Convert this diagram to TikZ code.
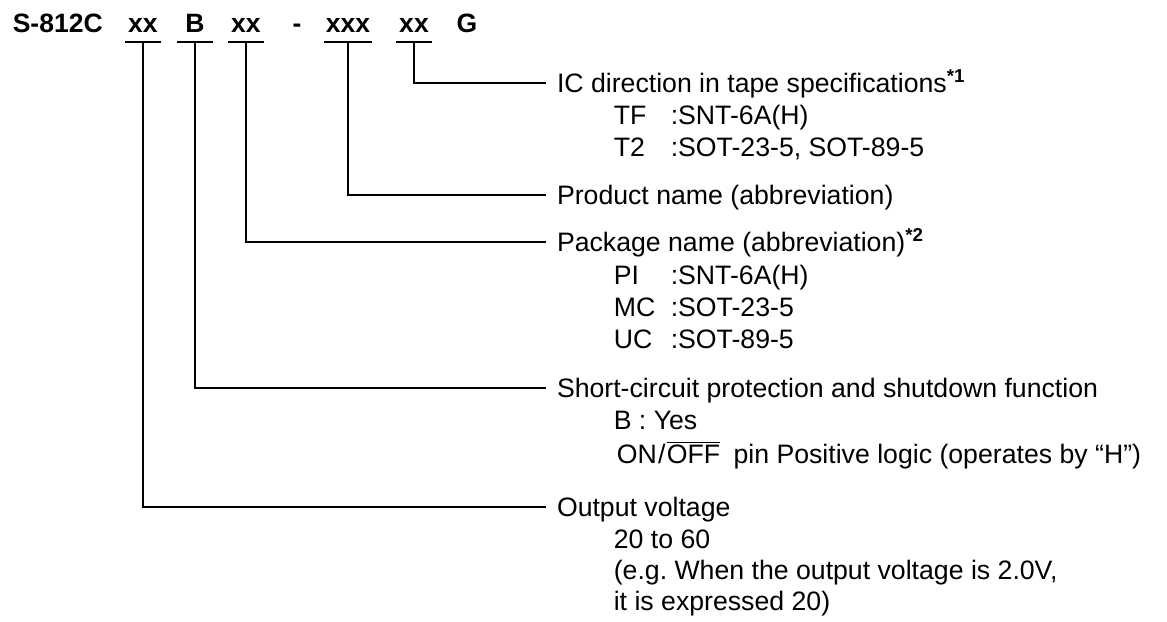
\documentclass[tikz,border=0pt]{standalone}
\usepackage{fontspec}
\setmainfont{Liberation Sans}

\tikzset{every picture/.style={line width=1.2pt}}
\tikzset{
  partcode/.style={anchor=base, font=\fontsize{19.9}{23.8}\selectfont\bfseries, inner xsep=1.1pt, inner ysep=6.75pt, minimum width=25.5pt, text height=14.25pt, text depth=0pt},
  desctitle/.style={anchor=west, font=\fontsize{20}{23.8}\selectfont, inner sep=0pt, outer xsep=8.25pt, outer ysep=0pt, text height=14.25pt, text depth=0pt},
  descline/.style={anchor=base west, font=\fontsize{20}{23.8}\selectfont, inner sep=0pt}
}
\newcommand{\keycol}[1]{\makebox[42.75pt][l]{#1}}

\begin{document}
\begin{tikzpicture}[x=0.75pt,y=0.75pt,yscale=-1,xscale=1]
	\useasboundingbox (0,0) rectangle (1167,621);

	% Text Node: part number
	\draw (10.5,32) node [partcode, anchor=base west] (pfx) {S-812C};
	\draw (143,32) node [partcode] (volt) {xx};
	\draw (195,32) node [partcode] (func) {B};
	\draw (246,32) node [partcode] (pkg) {xx};
	\draw (297,32) node [partcode] (hyph) {-};
	\draw (348,32) node [partcode] (prod) {xxx};
	\draw (414,32) node [partcode] (dir) {xx};
	\draw (467,32) node [partcode] (grn) {G};

	%Straight Lines: underlines
	\foreach \n in {volt,func,pkg,prod,dir}
		\draw (\n.south west) -- (\n.south east);

	% Text Node: IC direction
	\draw (546,83) node [desctitle] (dirt) {IC direction in tape specifications\textsuperscript{\bfseries *1}};
	\draw (613,124) node [descline] (dira) {\keycol{TF}:SNT-6A(H)};
	\draw (613,156) node [descline] (dirb) {\keycol{T2}:SOT-23-5, SOT-89-5};
	% Text Node: product name
	\draw (546,195) node [desctitle] (prodt) {Product name (abbreviation)};
	% Text Node: package name
	\draw (546,242) node [desctitle] (pkgt) {Package name (abbreviation)\textsuperscript{\bfseries *2}};
	\draw (613,284) node [descline] (pkga) {\keycol{PI}:SNT-6A(H)};
	\draw (613,316) node [descline] (pkgb) {\keycol{MC}:SOT-23-5};
	\draw (613,348) node [descline] (pkgc) {\keycol{UC}:SOT-89-5};
	% Text Node: short-circuit protection
	\draw (546,388) node [desctitle] (funct) {Short-circuit protection and shutdown function};
	\draw (613,429) node [descline] (funca) {B : Yes};
	\draw (616,463) node [descline] (funcb) {ON\kern1pt/\kern1pt$\overline{\mbox{OFF}}$\hspace{10pt}pin Positive logic (operates by “H”)};
	% Text Node: output voltage
	\draw (546,507) node [desctitle] (voltt) {Output voltage};
	\draw (613,548) node [descline] (volta) {20 to 60};
	\draw (613,579) node [descline] (voltb) {(e.g.\ When the output voltage is 2.0V,};
	\draw (613,610) node [descline] (voltc) {it is expressed 20)};

	%Straight Lines: connectors
	\draw (dir.south) |- (dirt.west);
	\draw (prod.south) |- (prodt.west);
	\draw (pkg.south) |- (pkgt.west);
	\draw (func.south) |- (funct.west);
	\draw (volt.south) |- (voltt.west);

\end{tikzpicture}
\end{document}
